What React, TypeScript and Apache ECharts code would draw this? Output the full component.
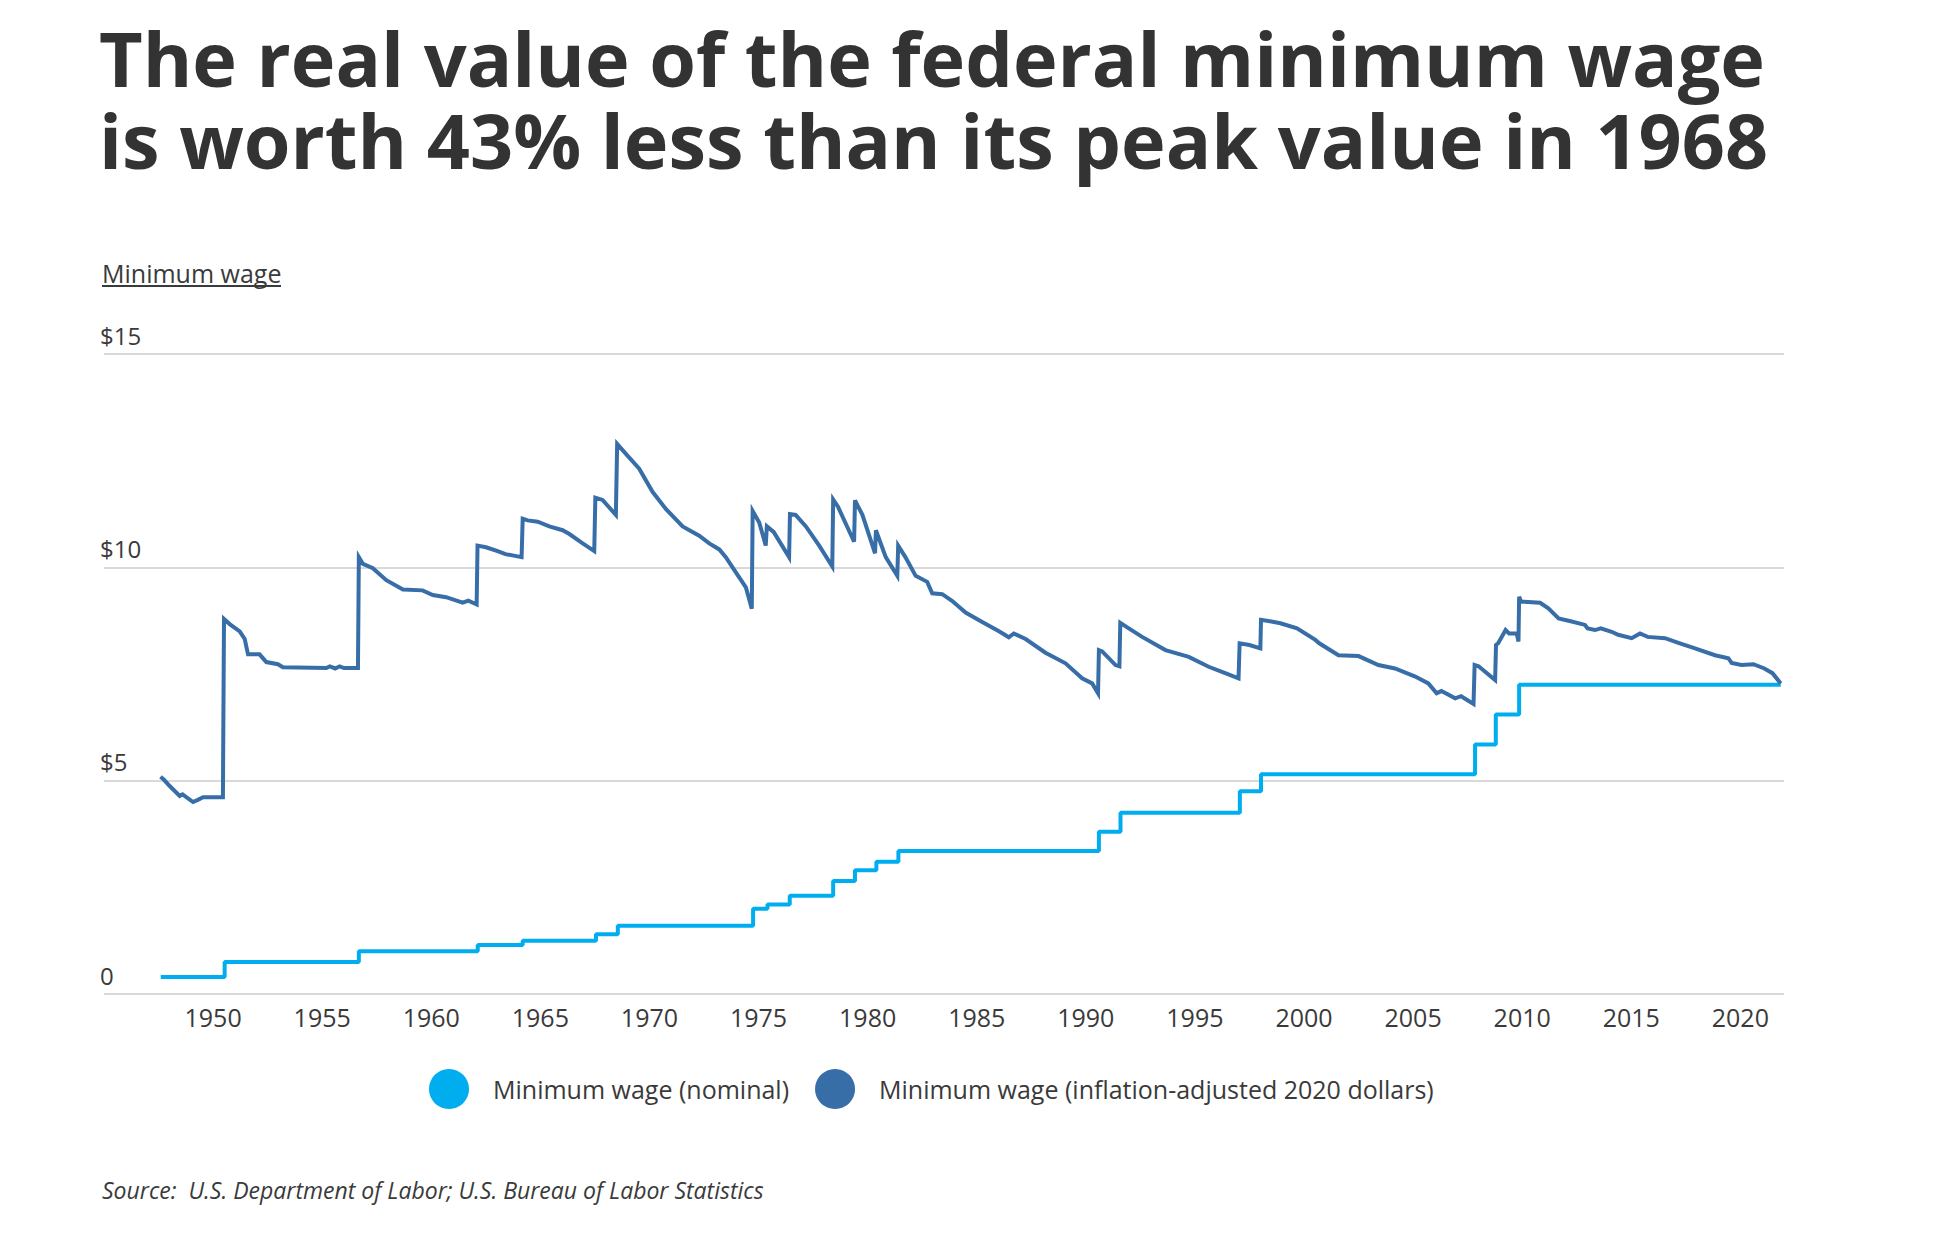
import React, { useEffect, useRef } from "react";
import * as echarts from "echarts";

const titleText = "The real value of the federal minimum wage\nis worth 43% less than its peak value in 1968";
const axisTitle = "Minimum wage";
const sourceText = "Source:  U.S. Department of Labor; U.S. Bureau of Labor Statistics";
const seriesNames = ["Minimum wage (nominal)", "Minimum wage (inflation-adjusted 2020 dollars)"];
const yTicks = [0, 5, 10, 15];
const xTickYears = [1950, 1955, 1960, 1965, 1970, 1975, 1980, 1985, 1990, 1995, 2000, 2005, 2010, 2015, 2020];

// Nominal minimum wage (step changes)
const nominalYears = [1947.6, 1950.53, 1956.68, 1962.13, 1964.19, 1967.55, 1968.55, 1974.75, 1975.41, 1976.43, 1978.42, 1979.42, 1980.4, 1981.41, 1990.6, 1991.59, 1997.06, 1998.03, 2007.84, 2008.79, 2009.86, 2021.85];
const nominalWage = [0.4, 0.75, 1.0, 1.15, 1.25, 1.4, 1.6, 2.0, 2.1, 2.3, 2.65, 2.9, 3.1, 3.35, 3.8, 4.25, 4.75, 5.15, 5.85, 6.55, 7.25, 7.25];

// Inflation-adjusted minimum wage (2020 dollars)
const adjYears = [
  1947.59, 1947.75, 1948.0, 1948.47, 1948.6, 1949.08, 1949.3, 1949.54, 1950.45, 1950.5,
  1950.76, 1951.22, 1951.45, 1951.6, 1952.13, 1952.44, 1952.97, 1953.2, 1955.19, 1955.35,
  1955.6, 1955.8, 1956.0, 1956.64, 1956.68, 1956.87, 1957.32, 1957.94, 1958.7, 1959.6,
  1960.07, 1960.68, 1961.44, 1961.7, 1962.08, 1962.12, 1962.51, 1963.04, 1963.4, 1964.14,
  1964.19, 1964.42, 1964.88, 1965.41, 1966.02, 1966.33, 1966.94, 1967.47, 1967.52, 1967.85,
  1968.46, 1968.52, 1968.92, 1969.53, 1970.14, 1970.75, 1971.52, 1972.28, 1972.74, 1973.2,
  1973.5, 1973.96, 1974.42, 1974.69, 1974.73, 1975.03, 1975.33, 1975.38, 1975.69, 1976.4,
  1976.44, 1976.7, 1977.17, 1977.78, 1978.38, 1978.42, 1978.64, 1979.38, 1979.42, 1979.76,
  1980.34, 1980.38, 1980.83, 1981.36, 1981.4, 1981.73, 1982.2, 1982.73, 1982.96, 1983.42,
  1983.88, 1984.49, 1985.25, 1986.02, 1986.47, 1986.7, 1987.24, 1988.15, 1989.07, 1989.83,
  1990.29, 1990.56, 1990.6, 1990.75, 1991.36, 1991.54, 1991.58, 1991.97, 1992.58, 1993.65,
  1994.72, 1995.63, 1996.39, 1997.0, 1997.05, 1997.5, 1998.0, 1998.03, 1998.5, 1998.92,
  1999.68, 2000.52, 2000.7, 2001.58, 2002.5, 2003.41, 2004.17, 2005.1, 2005.7, 2006.08,
  2006.3, 2006.93, 2007.2, 2007.77, 2007.82, 2008.0, 2008.76, 2008.8, 2008.9, 2009.24,
  2009.4, 2009.75, 2009.83, 2009.86, 2009.95, 2010.82, 2011.2, 2011.67, 2012.27, 2012.88,
  2013.0, 2013.34, 2013.6, 2014.1, 2014.4, 2015.02, 2015.4, 2015.75, 2016.55, 2017.16,
  2017.92, 2018.84, 2019.45, 2019.6, 2020.05, 2020.6, 2021.1, 2021.47, 2021.85,
];
const adjWage = [
  5.09, 5.02, 4.88, 4.64, 4.68, 4.5, 4.55, 4.61, 4.61, 8.79,
  8.67, 8.5, 8.32, 7.96, 7.96, 7.78, 7.73, 7.66, 7.64, 7.68,
  7.63, 7.68, 7.64, 7.64, 10.24, 10.08, 9.98, 9.7, 9.48, 9.46,
  9.35, 9.3, 9.17, 9.22, 9.13, 10.51, 10.47, 10.38, 10.31, 10.24,
  11.14, 11.1, 11.07, 10.96, 10.87, 10.78, 10.56, 10.38, 11.63, 11.58,
  11.23, 12.89, 12.66, 12.31, 11.77, 11.37, 10.96, 10.74, 10.56, 10.42,
  10.24, 9.88, 9.53, 9.03, 11.32, 11.05, 10.51, 10.96, 10.83, 10.24,
  11.25, 11.23, 10.96, 10.51, 10.02, 11.59, 11.42, 10.6, 11.57, 11.23,
  10.33, 10.87, 10.24, 9.8, 10.51, 10.24, 9.8, 9.66, 9.39, 9.37,
  9.21, 8.94, 8.72, 8.5, 8.36, 8.45, 8.32, 8.0, 7.75, 7.4,
  7.28, 7.05, 8.06, 8.03, 7.71, 7.68, 8.7, 8.57, 8.37, 8.06,
  7.9, 7.67, 7.52, 7.4, 8.22, 8.18, 8.1, 8.77, 8.73, 8.69,
  8.57, 8.3, 8.22, 7.94, 7.92, 7.71, 7.63, 7.44, 7.28, 7.05,
  7.1, 6.93, 6.98, 6.8, 7.71, 7.68, 7.36, 8.18, 8.22, 8.53,
  8.45, 8.45, 8.26, 9.31, 9.2, 9.17, 9.04, 8.8, 8.73, 8.65,
  8.57, 8.53, 8.57, 8.49, 8.42, 8.34, 8.45, 8.37, 8.34, 8.23,
  8.1, 7.94, 7.87, 7.76, 7.71, 7.73, 7.63, 7.52, 7.28,
];

const FONT = "'Open Sans', 'Noto Sans', sans-serif";
const TEXT_COLOR = "#3a3a3a";
const NOMINAL_COLOR = "#00aeef";
const ADJ_COLOR = "#386ea8";

export default function App() {
  const ref = useRef<HTMLDivElement>(null);

  useEffect(() => {
    if (!ref.current) return;
    const chart = echarts.init(ref.current, undefined, { renderer: "svg" });
    const nominalData = nominalYears.map((x, i) => [x, nominalWage[i]]);
    const adjData = adjYears.map((x, i) => [x, adjWage[i]]);

    chart.setOption({
      animation: false,
      backgroundColor: "#ffffff",
      title: {
        text: titleText,
        left: 99,
        top: 16,
        padding: 0,
        textStyle: {
          fontFamily: FONT,
          fontWeight: "bold",
          fontSize: 75.5,
          lineHeight: 82,
          color: "#333333",
        },
      },
      legend: {
        left: 424,
        top: 1064,
        itemWidth: 40,
        itemHeight: 40,
        itemGap: 26,
        icon: "circle",
        data: seriesNames,
        textStyle: {
          fontFamily: FONT,
          fontSize: 25,
          color: TEXT_COLOR,
          padding: [0, 0, 0, 19],
        },
      },
      grid: {
        left: 104,
        right: 150,
        top: 354,
        bottom: 242,
        containLabel: false,
      },
      xAxis: {
        type: "value",
        min: 1945,
        max: 2022,
        interval: 5,
        axisLine: { show: false },
        axisTick: { show: false },
        splitLine: { show: false },
        axisLabel: {
          margin: 10,
          fontFamily: FONT,
          fontSize: 25,
          color: TEXT_COLOR,
          formatter: (v: number) => (xTickYears.indexOf(v) >= 0 ? String(v) : ""),
        },
      },
      yAxis: {
        type: "value",
        min: yTicks[0],
        max: yTicks[yTicks.length - 1],
        interval: 5,
        axisLine: { show: false },
        axisTick: { show: false },
        splitLine: { show: true, lineStyle: { color: "#d9d9d9", width: 2 } },
        axisLabel: {
          inside: true,
          margin: -4,
          align: "left",
          verticalAlign: "bottom",
          lineHeight: 24,
          padding: [0, 0, 7, 0],
          fontFamily: FONT,
          fontSize: 24,
          color: TEXT_COLOR,
          formatter: (v: number) => (v === 0 ? "0" : "$" + v),
        },
      },
      graphic: [
        {
          type: "text",
          x: 102,
          y: 273,
          style: {
            text: axisTitle,
            font: `25px ${FONT}`,
            fill: TEXT_COLOR,
            verticalAlign: "middle",
            align: "left",
          },
        },
        {
          type: "line",
          shape: { x1: 102, y1: 286, x2: 281, y2: 286 },
          style: { stroke: TEXT_COLOR, lineWidth: 2 },
        },
        {
          type: "text",
          x: 102,
          y: 1190,
          style: {
            text: sourceText,
            font: `italic 23px ${FONT}`,
            fill: TEXT_COLOR,
            verticalAlign: "middle",
            align: "left",
          },
        },
      ],
      series: [
        {
          name: seriesNames[0],
          type: "line",
          step: "end",
          data: nominalData,
          showSymbol: false,
          symbol: "none",
          color: NOMINAL_COLOR,
          lineStyle: { color: NOMINAL_COLOR, width: 4 },
          z: 2,
        },
        {
          name: seriesNames[1],
          type: "line",
          data: adjData,
          showSymbol: false,
          symbol: "none",
          color: ADJ_COLOR,
          lineStyle: { color: ADJ_COLOR, width: 4, join: "miter" },
          z: 3,
        },
      ],
    });

    return () => chart.dispose();
  }, []);

  return (
    <div
      ref={ref}
      style={{ position: "fixed", left: 0, top: 0, width: 1934, height: 1236, background: "#fff" }}
    />
  );
}
